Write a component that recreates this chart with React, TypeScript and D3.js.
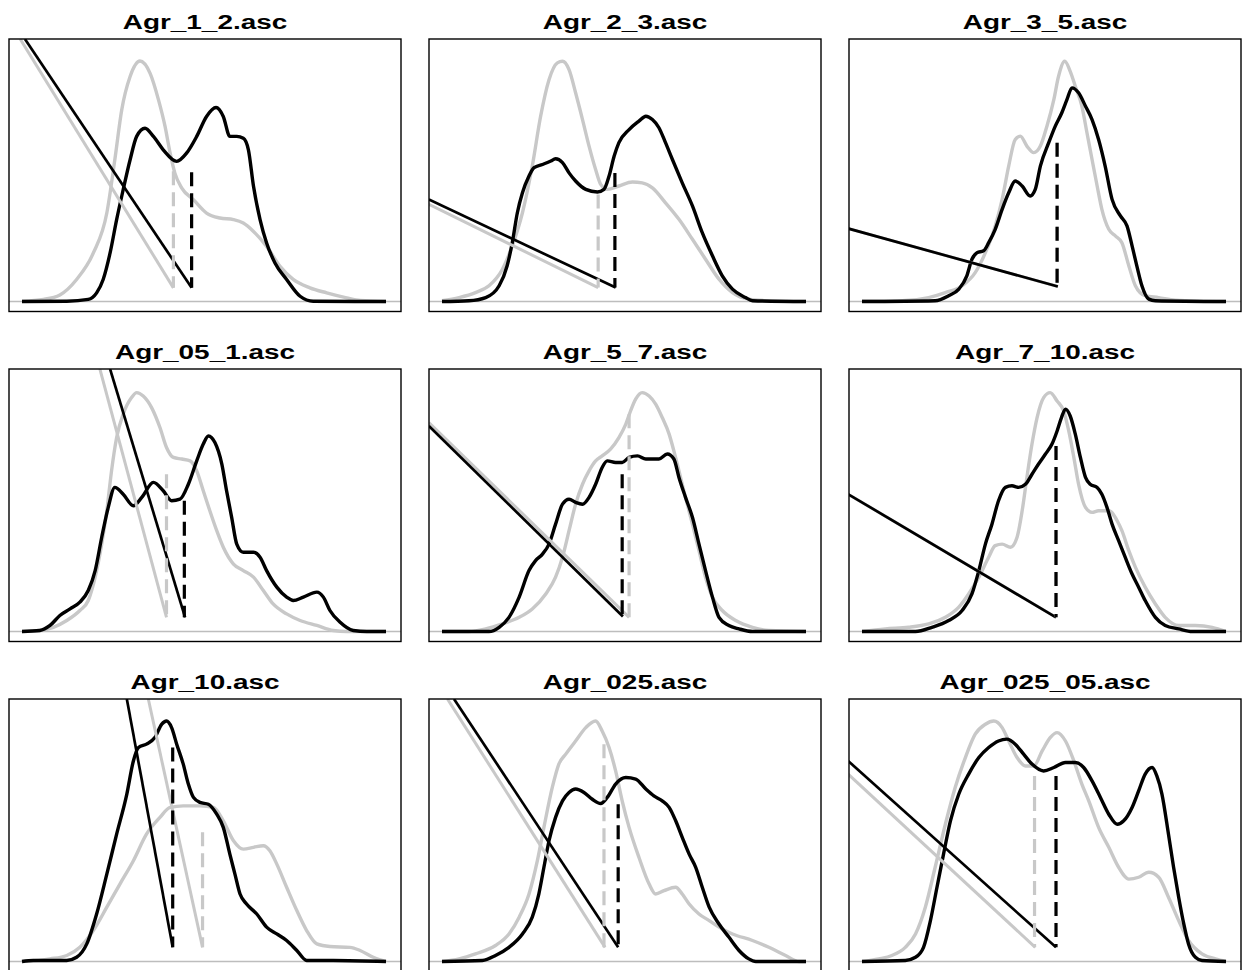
import React from "react";
import * as d3 from "d3";

type Pt = [number, number];
type Cut = [number, number, number]; // x, bottom, top

const titles = [
  "Agr_1_2.asc", "Agr_2_3.asc", "Agr_3_5.asc",
  "Agr_05_1.asc", "Agr_5_7.asc", "Agr_7_10.asc",
  "Agr_10.asc", "Agr_025.asc", "Agr_025_05.asc",
];

// Reference distributions (gray)
const grayAgr12: Pt[] = [[0,0.1],[5.9,0.8],[10.4,2.5],[15,8.4],[19.6,18.5],[23.3,33.7],[25.5,54],[27.4,73],[29.7,85.7],[32.4,91.6],[35.2,86.9],[37.5,76.8],[39.3,66.7],[40.7,56.5],[42,48.9],[43.9,43.2],[47.1,38.8],[50.7,33.7],[54.4,31.8],[58.1,31.2],[60.8,29.9],[63.6,26.7],[67.2,21],[70.9,13.4],[74.5,8.4],[79.1,5.2],[83.7,3.3],[89.2,1.4],[92.9,0.4],[100,0]];
const grayAgr23: Pt[] = [[0,0.3],[4.7,1.5],[9.2,3.4],[12.9,6],[16.6,12.3],[19.3,21.2],[22.1,33.8],[24.8,51.6],[27.1,70.6],[29.4,84.5],[31.7,90.9],[33.1,91.5],[34.9,88.3],[36.7,79.5],[38.6,69.3],[40.4,59.2],[42.2,50.3],[43.6,44.6],[45.4,42.7],[48.6,44],[52.3,45.5],[55,45.2],[57.8,43.3],[61.4,37.6],[65.1,31.3],[68.8,23.7],[72.4,16.1],[76.1,8.5],[79.8,3.4],[84.3,0.9],[89.8,0.3],[100,0]];
const grayAgr35: Pt[] = [[0,0.2],[11,0.3],[18.3,1.5],[22.9,3.4],[27.5,6],[31.1,11],[33.9,18.6],[36.6,28.8],[38.5,38.9],[40.3,51.6],[42.1,61.7],[43.5,63],[45.3,59.2],[47.2,56.7],[49,59.2],[50.8,66.8],[52.7,76.9],[54,85.8],[55.7,91.5],[57.2,87.7],[58.6,82],[60.4,74.4],[61.8,64.3],[63.2,54.1],[64.6,44],[65.9,35.1],[67.8,27.5],[69.6,25],[71.4,22.4],[73.3,13.6],[75.1,6],[77.8,2.2],[81.5,1.5],[86.1,0.5],[100,0]];
const grayAgr051: Pt[] = [[0,0],[4.9,0.4],[8.6,1.6],[12.3,4.2],[15.9,8],[18.2,11.8],[20.1,20.7],[21.9,33.3],[23.3,46],[24.6,61.2],[26,73.9],[27.8,82.8],[30.1,89.1],[31.5,91],[33.3,89.7],[35.6,85.3],[37.9,77.7],[39.7,70.1],[41.6,66.3],[43.9,65.7],[46.2,65],[48,61.2],[49.8,53.6],[51.6,46],[53.5,38.4],[55.3,32.1],[58.1,25.7],[60.8,23.2],[63.6,20.7],[66.3,15.6],[69,10.5],[72.7,6.7],[76.4,4.2],[81,2.3],[85.5,0.4],[89.2,0],[100,0]];
const grayAgr57: Pt[] = [[0,0],[7.4,0],[12,1],[16.6,2.9],[21.2,5.4],[24.8,8.6],[28.5,14.3],[31.2,20.7],[33.1,28.3],[34.9,38.4],[36.7,48.5],[38.6,56.1],[40.4,61.2],[42.2,65],[44,66.9],[46.3,69.5],[48.6,73.9],[50.5,79],[51.8,84],[53.2,88.5],[55,91],[56.9,89.7],[58.7,86.6],[60.5,81.5],[62.4,75.2],[63.7,68.8],[65.1,61.2],[66.9,51.1],[68.8,40.9],[70.6,30.8],[72.4,20.7],[74.3,13.1],[77,8],[80.7,4.2],[85.3,1.6],[89.8,0.4],[100,0]];
const grayAgr710: Pt[] = [[0,0],[6.4,1],[12.8,1.6],[18.3,2.9],[22.9,5.4],[26.6,9.3],[29.3,14.3],[32.1,20.7],[34.8,28.3],[36.6,32.7],[38.5,33.3],[40.8,32.1],[42.6,35.9],[44,46],[45.3,58.7],[46.7,71.4],[48.1,81.5],[49.9,89.1],[51.7,91],[53.6,87.8],[55.4,84],[56.8,76.4],[58.2,66.3],[59.5,56.1],[61.4,47.3],[63.2,45.4],[65,46],[67.8,46],[70.1,42.2],[71.4,38.4],[73.3,30.8],[75.1,24.5],[77.8,16.9],[80.6,10.5],[83.3,5.4],[87,2.3],[91.6,2.3],[96.2,1.6],[100,0]];
const grayAgr10: Pt[] = [[0,0],[7.7,1],[12.3,2.3],[15.9,5.4],[19.6,11.8],[23.3,20.7],[26.9,29.5],[30.6,38.4],[34.2,48.5],[37.9,54.9],[40.7,58.7],[44.3,59.3],[48.9,59.3],[52.6,58.7],[55.3,53.6],[58.1,46],[60.8,42.8],[63.6,43.5],[66.3,44.1],[68.1,42.2],[70,37.1],[72.7,28.3],[75.5,19.4],[78.2,11.8],[81,6.7],[84.6,5.7],[90.1,5.4],[92.9,4.2],[96.5,1.6],[100,0]];
const grayAgr025: Pt[] = [[0,0],[4.7,1],[9.2,2.9],[14.7,6.1],[18.4,10.5],[21.2,16.9],[23.9,25.7],[26.2,38.4],[28,51.1],[30.3,66.3],[32.1,75.2],[34,79],[36.7,84],[39.5,89.1],[42.2,91.6],[44,87.8],[45.9,81.5],[47.7,72.6],[49.5,61.2],[51.4,51.1],[54.1,39.7],[56.9,29.5],[58.7,25.7],[61,27],[64.2,28.3],[66,25.7],[67.9,21.9],[70.6,18.1],[73.4,15.6],[76.1,13.1],[79.8,10.5],[85.3,8],[89.8,5.4],[94.4,2.3],[98.1,0],[100,0]];
const grayAgr02505: Pt[] = [[0,0],[4.6,1],[8.2,2.3],[11.9,5.4],[14.7,10.5],[17.4,20.7],[20.1,35.9],[22.9,52.3],[25.6,66.3],[28.4,77.7],[31.1,86.6],[33.9,90.4],[36.2,91.6],[38.5,89.1],[40.3,84],[42.6,77.7],[44.9,74.5],[47.2,74.5],[49.5,80.2],[51.7,85.3],[53.6,87.2],[55.9,84],[58.2,76.4],[60.4,67.6],[62.3,61.2],[65,51.1],[67.8,43.5],[70.5,35.9],[73.3,31.4],[76,32.1],[78.8,34],[81.5,32.1],[84.2,24.5],[87,15.6],[89.7,8],[93.4,2.9],[97.1,1],[100,0]];

// Sample distributions (black)
const blackAgr12: Pt[] = [[0,0],[12.3,0.1],[18.2,0.8],[20.5,3.3],[22.3,8.4],[24.2,18.5],[26,31.2],[27.8,42.6],[29.7,54],[31.5,62.9],[33.8,66],[36.1,62.9],[38.8,57.8],[42.5,53.4],[45.2,56.5],[48,62.9],[50.7,70.5],[53.3,73.9],[55.3,70.5],[57.1,62.9],[59,62.9],[60.8,62.2],[62.2,57.8],[63.6,43.9],[65.4,31.2],[67.2,22.3],[69.5,14.7],[72.7,8.4],[76.4,2],[80,0.1],[100,0]];
const blackAgr23: Pt[] = [[0,0],[7.4,0.3],[12,1.5],[15.7,6],[17.9,13.6],[19.3,22.4],[20.7,33.8],[22.1,41.4],[23.9,47.8],[25.3,51],[27.6,52.2],[29.9,53.5],[31.2,54.4],[33.1,52.9],[34.9,49],[36.7,45.9],[39.5,42.7],[42.7,41.7],[44.5,42.7],[45.9,47.8],[47.3,55.4],[48.6,60.5],[51.4,65.5],[54.1,68.7],[56,70.6],[57.8,69.3],[59.6,66.2],[61.4,60.5],[63.3,54.1],[66,45.2],[68.8,36.4],[71.5,26.2],[74.3,17.4],[77,9.8],[79.8,4.7],[83.4,1.5],[85.3,0.3],[100,0]];
const blackAgr35: Pt[] = [[0,0],[20.1,0.3],[23.8,2.2],[26.6,4.7],[28.8,9.8],[30.2,16.1],[31.6,18.6],[33.4,19.3],[34.8,22.4],[36.6,27.5],[38.5,35.1],[40.3,41.4],[42.1,45.9],[44,44],[46.2,40.2],[47.6,42.7],[49,51.6],[51.3,60.5],[53.1,66.8],[54.9,71.9],[56.3,76.9],[57.7,81.4],[59.5,79.5],[61.4,74.4],[63.2,69.3],[65,61.7],[66.8,51.6],[68.7,38.9],[71,32.6],[72.8,28.8],[74.2,21.2],[75.5,13.6],[76.9,6],[78.8,0.9],[80.6,0.3],[100,0]];
const blackAgr051: Pt[] = [[0,0],[4.9,0.4],[7.7,2.3],[10.4,6.1],[13.2,8.6],[15.9,11.2],[18.2,15.6],[20.1,23.2],[21.9,35.9],[23.7,47.3],[25.5,54.9],[27.8,52.3],[30.6,47.9],[32.9,51.1],[36.1,56.8],[38.8,53.6],[41.1,49.8],[43.4,50.4],[45.7,56.1],[48,65],[49.8,71.4],[51.2,74.5],[53,72],[54.9,63.8],[56.2,53.6],[57.6,43.5],[59,33.3],[60.8,30.2],[63.6,30.2],[65.4,28.3],[67.2,23.2],[70,16.9],[72.7,13.1],[74.5,11.8],[77.3,13.1],[81,15],[82.8,13.1],[84.6,8],[87.4,3.5],[91,0.4],[94.7,0],[100,0]];
const blackAgr57: Pt[] = [[0,0],[12.9,0],[15.7,1.6],[18.4,5.4],[21.2,13.1],[23.9,23.2],[25.7,27],[27.6,29.5],[29.4,33.3],[31.2,40.9],[33.1,48.5],[34.9,50.4],[36.7,49.2],[38.6,48.5],[40.4,51.1],[42.2,56.1],[44,62.5],[45.4,65],[47.7,64.4],[49.5,64.4],[51.4,66.3],[53.7,66.9],[56,65.7],[59.6,65.7],[61.9,67.6],[63.7,65.7],[65.1,58.7],[66.9,51.1],[68.8,43.5],[70.6,33.3],[72.4,23.2],[74.3,13.1],[76.1,5.4],[78.8,2.3],[81.6,1],[85.3,0],[100,0]];
const blackAgr710: Pt[] = [[0,0],[14.7,0],[19.2,1.6],[23.8,4.2],[27.5,8],[30.2,14.3],[32.1,23.2],[33.9,33.3],[35.7,40.9],[37.5,49.8],[39.4,54.9],[41.2,55.5],[43,54.9],[44.9,56.1],[46.7,59.9],[48.5,63.8],[50.4,67.6],[52.2,71.4],[53.6,76.4],[54.8,81.5],[55.9,84.7],[57.2,82.1],[58.6,75.2],[60,66.3],[61.4,58.7],[62.7,56.1],[64.6,54.9],[65.9,52.3],[67.3,47.3],[68.7,40.9],[70.5,34.6],[72.3,28.3],[74.2,21.9],[76,16.9],[77.8,11.8],[80.6,5.4],[83.3,2.3],[87,1],[90.7,0],[100,0]];
const blackAgr10: Pt[] = [[0,0],[3.1,0.4],[12.3,0.4],[15,1.6],[17.8,6.7],[20.5,18.1],[23.3,33.3],[26,48.5],[28.8,63.8],[30.6,76.4],[32,81.5],[34.2,82.8],[36.5,85.3],[38.4,90.4],[39.7,91.6],[41.1,89.1],[42.5,82.8],[44.3,75.2],[45.7,67.6],[47.1,62.5],[48.9,60.6],[51.2,59.9],[53.5,56.1],[55.3,51.1],[57.1,40.9],[58.5,33.3],[59.9,25.7],[61.7,21.9],[64.5,18.1],[67.2,13.1],[70,10.5],[72.7,8],[75.5,4.2],[78.2,0.4],[85.5,0.4],[100,0]];
const blackAgr025: Pt[] = [[0,0],[11.1,0.4],[14.7,2.3],[18.4,5.4],[22.1,10.5],[24.8,16.9],[26.6,25.7],[28,35.9],[29.4,46],[31.2,54.9],[33.1,61.2],[34.9,64.4],[36.7,65.7],[39,64.4],[41.3,61.8],[43.6,60.2],[45.4,62.5],[47.7,67.6],[50.5,70.1],[53.2,69.5],[56,65.7],[58.2,63.1],[60.5,61.2],[62.4,58.7],[64.2,53.6],[66,47.3],[67.9,40.9],[69.7,35.9],[71.5,28.3],[73.4,20.7],[76.1,14.3],[78.8,9.3],[81.6,4.2],[84.3,1],[86.2,0],[100,0]];
const blackAgr02505: Pt[] = [[0,0],[11.9,0.4],[14.7,1.6],[16.9,5.4],[18.8,15.6],[20.6,28.3],[22.4,40.9],[24.3,53.6],[26.6,63.8],[29.3,71.4],[32.1,77.7],[34.8,81.5],[37.5,84],[39.8,84.7],[42.1,82.8],[44.4,79],[46.7,75.2],[49.9,72.6],[52.7,73.9],[55.9,75.8],[58.6,75.8],[60.9,73.9],[63.2,68.8],[65.5,62.5],[67.8,56.1],[70.1,52.3],[71.9,53.6],[74.2,58.7],[76,65],[77.8,71.4],[79.7,73.9],[81,70.7],[82.4,63.8],[84.2,48.5],[85.6,35.9],[87,24.5],[88.4,14.3],[89.7,6.7],[91.6,1.6],[93.4,0.4],[100,0]];

const grayCurves: Pt[][] = [grayAgr12, grayAgr23, grayAgr35, grayAgr051, grayAgr57, grayAgr710, grayAgr10, grayAgr025, grayAgr02505];
const blackCurves: Pt[][] = [blackAgr12, blackAgr23, blackAgr35, blackAgr051, blackAgr57, blackAgr710, blackAgr10, blackAgr025, blackAgr02505];

// Straight trend lines: start and end point
const grayFits: Pt[][] = [
  [[-0.5, 100], [41.6, 5.2]],
  [[-3.6, 37.0], [42.9, 5.3]],
  [[-3.8, 27.8], [53.8, 5.7]],
  [[21.4, 100], [39.7, 5.4]],
  [[-3.6, 79.6], [51.4, 5.4]],
  [[-3.8, 52.3], [53.3, 5.4]],
  [[34.7, 100], [49.6, 5.4]],
  [[1.5, 100], [44.8, 5.4]],
  [[-3.8, 71.4], [47.6, 5.4]],
];
const blackFits: Pt[][] = [
  [[0.8, 100], [46.6, 5.2]],
  [[-3.6, 38.9], [47.7, 5.3]],
  [[-3.8, 27.8], [53.8, 5.7]],
  [[24.2, 100], [44.8, 5.4]],
  [[-3.6, 78.3], [49.7, 5.7]],
  [[-3.8, 52.3], [53.3, 5.4]],
  [[28.8, 100], [41.4, 5.4]],
  [[3.3, 100], [48.4, 5.4]],
  [[-3.8, 76.4], [53.3, 5.4]],
];

// Dashed cut-off markers: x, bottom, top
const grayCuts: Cut[] = [
  [41.6, 5.2, 49.6],
  [42.9, 5.3, 40.8],
  [53.6, 5.7, 60.5],
  [39.7, 5.4, 59.9],
  [51.4, 5.4, 82.8],
  [53.3, 5.4, 70.7],
  [49.6, 5.4, 49.2],
  [44.5, 5.4, 82.8],
  [47.4, 5.4, 70.7],
];
const blackCuts: Cut[] = [
  [46.6, 5.2, 49.2],
  [47.5, 5.3, 49.0],
  [53.6, 5.7, 60.5],
  [44.6, 5.4, 49.8],
  [49.5, 5.7, 59.9],
  [53.3, 5.4, 70.7],
  [41.4, 5.4, 81.5],
  [48.4, 5.4, 59.9],
  [53.3, 5.4, 70.7],
];

const W = 1249;
const H = 970;
const colLeft = [9, 429, 849];
const rowTop = [39, 369, 699];
const boxW = 392;
const boxH = 272.5;
const plotH = 262.5;
const GRAY = "#c8c8c8";
const FONT = "'Liberation Sans', Arial, Helvetica, sans-serif";

function Panel({ i }: { i: number }) {
  const L = colLeft[i % 3];
  const T = rowTop[Math.floor(i / 3)];
  const x = d3.scaleLinear().domain([0, 100]).range([L + 13, L + 377]);
  const y = d3.scaleLinear().domain([0, 100]).range([T + plotH, T]);
  const smooth = d3
    .line<Pt>()
    .x((d) => x(d[0]))
    .y((d) => y(d[1]))
    .curve(d3.curveMonotoneX);
  const straight = d3
    .line<Pt>()
    .x((d) => x(d[0]))
    .y((d) => y(d[1]));
  const clipId = `clip-${i}`;
  const gc = grayCuts[i];
  const bc = blackCuts[i];
  return (
    <g>
      <defs>
        <clipPath id={clipId}>
          <rect x={L} y={T} width={boxW} height={boxH} />
        </clipPath>
      </defs>
      <text
        transform={`translate(${L + boxW / 2},${T - 10.5}) scale(1.33,1)`}
        textAnchor="middle"
        fontFamily={FONT}
        fontWeight="bold"
        fontSize={21}
        fill="#000"
      >
        {titles[i]}
      </text>
      <g clipPath={`url(#${clipId})`}>
        <line x1={L} x2={L + boxW} y1={y(0)} y2={y(0)} stroke="#bdbdbd" strokeWidth={1.5} />
        <path d={smooth(grayCurves[i]) || ""} fill="none" stroke={GRAY} strokeWidth={3.4} strokeLinejoin="round" />
        <path d={smooth(blackCurves[i]) || ""} fill="none" stroke="#000" strokeWidth={3.4} strokeLinejoin="round" />
        <path d={straight(grayFits[i]) || ""} fill="none" stroke={GRAY} strokeWidth={3} />
        <path d={straight(blackFits[i]) || ""} fill="none" stroke="#000" strokeWidth={2.7} />
        <line x1={x(gc[0])} x2={x(gc[0])} y1={y(gc[2])} y2={y(gc[1])} stroke={GRAY} strokeWidth={3.2} strokeDasharray="14 7" />
        <line x1={x(bc[0])} x2={x(bc[0])} y1={y(bc[2])} y2={y(bc[1])} stroke="#000" strokeWidth={3.2} strokeDasharray="14 7" />
      </g>
      <rect x={L} y={T} width={boxW} height={boxH} fill="none" stroke="#000" strokeWidth={1.4} />
    </g>
  );
}

export default function App() {
  return (
    <svg
      width={W}
      height={H}
      viewBox={`0 0 ${W} ${H}`}
      style={{ position: "absolute", left: 0, top: 0, display: "block", background: "#fff" }}
    >
      <rect x={0} y={0} width={W} height={H} fill="#fff" />
      {titles.map((_, i) => (
        <Panel key={i} i={i} />
      ))}
    </svg>
  );
}
